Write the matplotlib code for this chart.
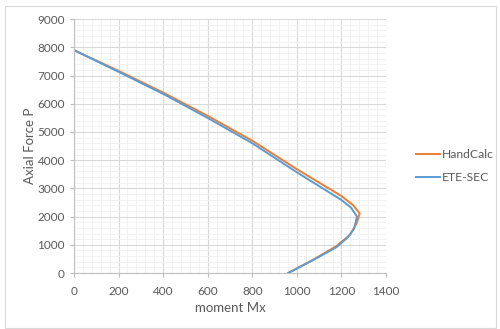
import matplotlib.pyplot as plt
import matplotlib.patches as patches
from matplotlib.ticker import MultipleLocator

# moment Mx / axial force P
hand_mx = [0, 200, 400, 600, 800, 1000, 1200, 1252, 1282, 1268, 1238, 1178, 1073, 961]
hand_p = [7900, 7165, 6395, 5570, 4690, 3680, 2730, 2410, 2110, 1760, 1350, 960, 470, 0]
ete_mx = [0, 200, 400, 600, 800, 1000, 1200, 1243, 1270, 1256, 1228, 1178, 1073, 961]
ete_p = [7900, 7130, 6350, 5495, 4600, 3570, 2590, 2320, 2000, 1560, 1260, 920, 461, 0]

plt.rcParams['font.family'] = ['Lato', 'DejaVu Sans']
text_color = '#595959'

fig = plt.figure(figsize=(5, 3.29), dpi=100)
fig.patches.append(patches.Rectangle((5 / 500, 1 / 329), 491 / 500, 322 / 329,
                                     transform=fig.transFigure, fill=False,
                                     edgecolor='#D9D9D9', linewidth=0.8))
ax = fig.add_axes([0.148, 0.170, 0.624, 0.772])

ax.plot(hand_mx, hand_p, color='#ED7D31', lw=1.4, label='HandCalc')
ax.plot(ete_mx, ete_p, color='#5B9BD5', lw=1.4, label='ETE-SEC')

ax.set_xlim(0, 1400)
ax.set_ylim(0, 9000)
ax.xaxis.set_major_locator(MultipleLocator(200))
ax.xaxis.set_minor_locator(MultipleLocator(40))
ax.yaxis.set_major_locator(MultipleLocator(1000))
ax.yaxis.set_minor_locator(MultipleLocator(200))
ax.grid(which='major', color='#D9D9D9', lw=0.8)
ax.grid(which='minor', color='#F0F0F0', lw=0.6)
ax.set_axisbelow(True)

for side in ['top', 'right']:
    ax.spines[side].set_visible(False)
for side in ['left', 'bottom']:
    ax.spines[side].set_color('#BFBFBF')
    ax.spines[side].set_linewidth(0.8)
ax.tick_params(which='major', colors='#BFBFBF', labelcolor=text_color,
               labelsize=8.5, length=3, width=0.8)
ax.tick_params(which='minor', length=0)
ax.tick_params(axis='x', pad=6)

ax.set_xlabel('moment Mx', color=text_color, fontsize=9.5, labelpad=4)
ax.set_ylabel('Axial Force P', color=text_color, fontsize=9.5, labelpad=1)

ax.legend(loc='center left', bbox_to_anchor=(1.06, 0.42), frameon=False,
          fontsize=8.7, labelcolor=text_color, handlelength=2.0,
          handletextpad=0.2, labelspacing=1.0)

fig.savefig('out.png', dpi=100)
